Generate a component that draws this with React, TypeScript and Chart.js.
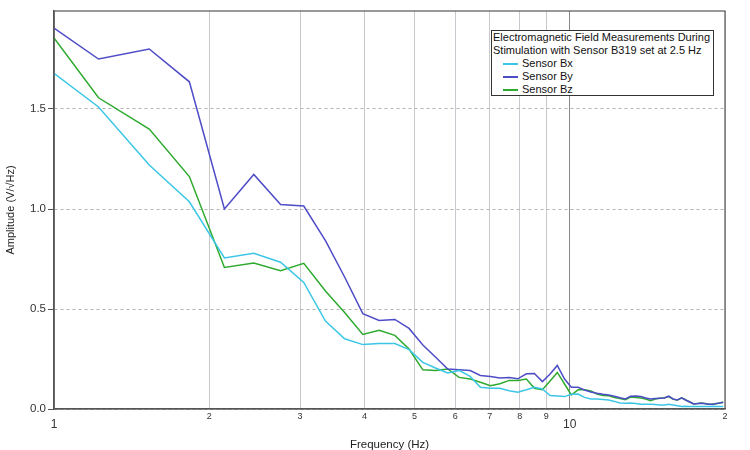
import { useEffect, useRef } from 'react';
import Chart from 'chart.js/auto';

// frequency bins (Hz)
const freqs = [
  1.0, 1.22, 1.53, 1.83, 2.14, 2.44, 2.75, 3.05, 3.36, 3.66, 3.97, 4.27, 4.58, 4.88, 5.19, 5.49,
  5.8, 6.1, 6.41, 6.71, 7.02, 7.32, 7.63, 7.93, 8.24, 8.54, 8.85, 9.16, 9.46, 9.77, 10.07, 10.38,
  10.68, 10.99, 11.29, 11.6, 11.9, 12.21, 12.51, 12.82, 13.12, 13.43, 13.73, 14.04, 14.34, 14.65,
  14.95, 15.26, 15.56, 15.87, 16.17, 16.48, 16.78, 17.09, 17.39, 17.7, 18.0, 18.31, 18.62, 18.92,
  19.23, 19.53, 19.84,
];

const sensorBx = [
  1.678, 1.51, 1.22, 1.036, 0.755, 0.779, 0.734, 0.633, 0.44, 0.351, 0.322, 0.327, 0.327, 0.297,
  0.233, 0.205, 0.18, 0.193, 0.163, 0.109, 0.104, 0.104, 0.091, 0.084, 0.096, 0.109, 0.1, 0.067,
  0.065, 0.062, 0.074, 0.075, 0.058, 0.05, 0.05, 0.048, 0.045, 0.038, 0.03, 0.029, 0.03, 0.027,
  0.024, 0.024, 0.024, 0.022, 0.02, 0.02, 0.024, 0.02, 0.016, 0.012, 0.014, 0.012, 0.012, 0.012,
  0.013, 0.012, 0.012, 0.014, 0.013, 0.012, 0.012,
];

const sensorBy = [
  1.905, 1.75, 1.8, 1.636, 1.0, 1.173, 1.022, 1.015, 0.842, 0.66, 0.477, 0.443, 0.448, 0.403,
  0.32, 0.26, 0.2, 0.196, 0.192, 0.168, 0.163, 0.155, 0.157, 0.151, 0.176, 0.178, 0.137, 0.175,
  0.218, 0.15, 0.109, 0.109, 0.095, 0.085, 0.079, 0.074, 0.07, 0.064, 0.056, 0.05, 0.064, 0.065,
  0.062, 0.055, 0.05, 0.052, 0.054, 0.055, 0.064, 0.05, 0.045, 0.056, 0.045, 0.035, 0.025, 0.027,
  0.029, 0.026, 0.024, 0.024, 0.028, 0.03, 0.034,
];

const sensorBz = [
  1.855, 1.556, 1.4, 1.162, 0.708, 0.73, 0.691, 0.728, 0.59, 0.482, 0.373, 0.394, 0.368, 0.3,
  0.196, 0.193, 0.2, 0.158, 0.15, 0.134, 0.116, 0.126, 0.143, 0.143, 0.15, 0.104, 0.096, 0.14,
  0.183, 0.125, 0.07, 0.096, 0.096, 0.09, 0.075, 0.068, 0.066, 0.057, 0.052, 0.046, 0.06, 0.058,
  0.055, 0.05, 0.042, 0.05, 0.054, 0.056, 0.062, 0.048, 0.045, 0.056, 0.045, 0.035, 0.025, 0.027,
  0.03, 0.028, 0.024, 0.024, 0.026, 0.03, 0.034,
];

const xTickValues = [1, 2, 3, 4, 5, 6, 7, 8, 9, 10, 20];
const yTickValues = [0, 0.5, 1.0, 1.5];

const legendTitle = ['Electromagnetic Field Measurements During', 'Stimulation with Sensor B319 set at 2.5 Hz'];
const seriesNames = ['Sensor Bx', 'Sensor By', 'Sensor Bz'];
const seriesColors = ['#3cc6e6', '#4e4cc6', '#2eaa2e'];

const FONT = '"Liberation Sans", Arial, sans-serif';

// outline round the plot area
const framePlugin = {
  id: 'frame',
  afterDraw(chart: Chart) {
    const { ctx, chartArea } = chart;
    ctx.save();
    ctx.strokeStyle = '#555';
    ctx.lineWidth = 1.2;
    ctx.strokeRect(chartArea.left, chartArea.top, chartArea.right - chartArea.left, chartArea.bottom - chartArea.top);
    ctx.restore();
  },
};

export default function App() {
  const canvasRef = useRef<HTMLCanvasElement | null>(null);
  const chartRef = useRef<Chart | null>(null);

  useEffect(() => {
    if (!canvasRef.current) return;
    if (chartRef.current) chartRef.current.destroy();

    Chart.defaults.font.family = FONT;
    const series = [sensorBx, sensorBy, sensorBz];

    chartRef.current = new Chart(canvasRef.current, {
      type: 'line',
      data: {
        datasets: series.map((vals, k) => ({
          label: seriesNames[k],
          data: freqs.map((f, i) => ({ x: f, y: vals[i] })),
          borderColor: seriesColors[k],
          backgroundColor: seriesColors[k],
          borderWidth: 1.5,
          pointRadius: 0,
          tension: 0,
        })),
      },
      options: {
        animation: false,
        responsive: false,
        layout: { padding: { top: 11, right: 25, left: 0, bottom: 0 } },
        plugins: {
          legend: { display: false },
          tooltip: { enabled: false },
        },
        scales: {
          x: {
            type: 'logarithmic',
            min: 1,
            max: 20,
            afterBuildTicks: (s: any) => {
              s.ticks = xTickValues.map((v) => ({ value: v, major: v === 1 || v === 10 }));
            },
            afterFit: (s: any) => {
              s.height = 41;
            },
            ticks: {
              autoSkip: false,
              maxRotation: 0,
              padding: 2,
              color: '#333',
              font: (ctx: any) =>
                ctx.tick && (ctx.tick.value === 1 || ctx.tick.value === 10)
                  ? { size: 12, lineHeight: 2.2 }
                  : { size: 9, lineHeight: 1.3 },
              callback: (v: any) => (v === 20 ? '2' : String(v)),
            },
            grid: {
              drawTicks: false,
              color: (ctx: any) => (ctx.tick && ctx.tick.value === 10 ? '#8a8a8a' : '#c8c8ce'),
              lineWidth: 1,
            },
            border: { display: true, color: '#555', width: 1.2 },
            title: {
              display: true,
              text: 'Frequency (Hz)',
              color: '#222',
              font: { size: 11.5 },
              padding: { top: 0, bottom: -2 },
            },
          },
          y: {
            type: 'linear',
            min: 0,
            max: 1.99,
            afterBuildTicks: (s: any) => {
              s.ticks = yTickValues.map((v) => ({ value: v }));
            },
            afterFit: (s: any) => {
              s.width = 54;
            },
            ticks: {
              padding: 2,
              color: '#333',
              font: { size: 11.5 },
              callback: (v: any) => Number(v).toFixed(1),
            },
            grid: {
              color: '#b4b4b4',
              lineWidth: 1,
              drawTicks: true,
              tickLength: 6,
              tickColor: '#555',
            },
            border: { display: true, color: '#555', width: 1.5, dash: [3, 3] },
            title: {
              display: true,
              text: 'Amplitude (V/\u221AHz)',
              color: '#222',
              font: { size: 11 },
              padding: { top: 4, bottom: 0 },
            },
          },
        },
      },
      plugins: [framePlugin],
    });

    return () => {
      if (chartRef.current) {
        chartRef.current.destroy();
        chartRef.current = null;
      }
    };
  }, []);

  return (
    <div style={{ position: 'absolute', left: 0, top: 0, width: 750, height: 450, background: '#fff' }}>
      <canvas ref={canvasRef} width={750} height={450} />
      <div
        style={{
          position: 'absolute',
          left: 491,
          top: 30,
          width: 220,
          height: 64,
          border: '1px solid #333',
          background: '#fff',
          fontFamily: FONT,
          fontSize: 11,
          lineHeight: '13px',
          color: '#111',
          paddingLeft: 1,
          whiteSpace: 'nowrap',
        }}
      >
        {legendTitle.map((t) => (
          <div key={t}>{t}</div>
        ))}
        {seriesNames.map((name, k) => (
          <div key={name} style={{ display: 'flex', alignItems: 'center', height: 13 }}>
            <span
              style={{
                display: 'inline-block',
                width: 15,
                height: 2,
                marginLeft: 10,
                marginRight: 4,
                background: seriesColors[k],
              }}
            />
            <span>{name}</span>
          </div>
        ))}
      </div>
    </div>
  );
}
